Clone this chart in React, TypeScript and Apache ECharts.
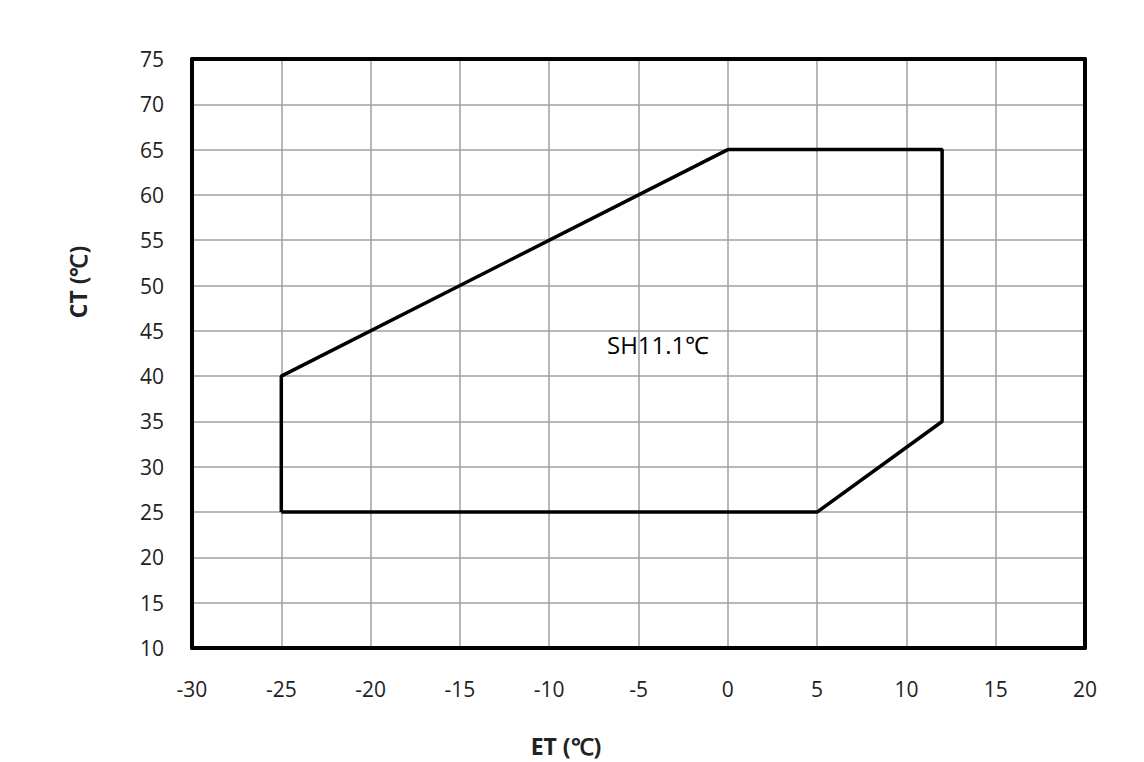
import React, { useEffect, useRef } from "react";
import * as echarts from "echarts";

const envelopeET = [-25, -25, 0, 12, 12, 5, -25];
const envelopeCT = [25, 40, 65, 65, 35, 25, 25];
const xTicks = { min: -30, max: 20, interval: 5 };
const yTicks = { min: 10, max: 75, interval: 5 };
const xTitle = "ET (℃)";
const yTitle = "CT (℃)";
const noteMain = "SH11.1";
const noteUnit = "℃";

export default function App() {
  const ref = useRef<HTMLDivElement>(null);
  useEffect(() => {
    document.body.style.margin = "0";
    const chart = echarts.init(ref.current!, null, { renderer: "svg" });
    const font = "'Open Sans', 'Liberation Sans', sans-serif";
    const frameAxis = {
      type: "value",
      axisLine: { show: true, onZero: false, lineStyle: { color: "#000", width: 4 } },
      axisTick: { show: false },
      axisLabel: { show: false },
      splitLine: { show: false },
    };
    chart.setOption({
      animation: false,
      backgroundColor: "#ffffff",
      grid: { left: 192, right: 59, top: 59, bottom: 114, outerBoundsMode: "none" },
      xAxis: [
        {
          type: "value",
          min: xTicks.min,
          max: xTicks.max,
          interval: xTicks.interval,
          axisLine: { show: true, onZero: false, lineStyle: { color: "#000", width: 4 } },
          axisTick: { show: false },
          axisLabel: { fontFamily: font, fontSize: 21, color: "#222", margin: 30 },
          splitLine: { lineStyle: { color: "#a0a0a0", width: 1.5 } },
        },
        { ...frameAxis, position: "top", min: xTicks.min, max: xTicks.max },
      ],
      yAxis: [
        {
          type: "value",
          min: yTicks.min,
          max: yTicks.max,
          interval: yTicks.interval,
          axisLine: { show: true, onZero: false, lineStyle: { color: "#000", width: 4 } },
          axisTick: { show: false },
          axisLabel: { fontFamily: font, fontSize: 21, color: "#222", margin: 28 },
          splitLine: { lineStyle: { color: "#a0a0a0", width: 1.5 } },
        },
        { ...frameAxis, position: "right", min: yTicks.min, max: yTicks.max },
      ],
      series: [
        {
          type: "line",
          data: envelopeET.map((x, i) => [x, envelopeCT[i]]),
          symbol: "none",
          lineStyle: { color: "#000", width: 3.5 },
        },
      ],
      graphic: [
        {
          type: "text",
          x: 566,
          y: 746,
          style: {
            text: xTitle,
            font: `bold 23px ${font}`,
            fill: "#222",
            textAlign: "center",
            textVerticalAlign: "middle",
          },
        },
        {
          type: "text",
          x: 78,
          y: 282,
          rotation: Math.PI / 2,
          style: {
            text: yTitle,
            font: `bold 23px ${font}`,
            fill: "#222",
            textAlign: "center",
            textVerticalAlign: "middle",
          },
        },
        {
          type: "text",
          x: 607,
          y: 344,
          style: {
            text: `{a|${noteMain}}{b|${noteUnit}}`,
            textVerticalAlign: "middle",
            rich: {
              a: { fontFamily: font, fontSize: 24, color: "#222" },
              b: { fontFamily: font, fontSize: 24, color: "#8a8a8a", fontWeight: 300 },
            },
          },
        },
      ],
    });
    return () => chart.dispose();
  }, []);
  return <div ref={ref} style={{ width: 1144, height: 762 }} />;
}
